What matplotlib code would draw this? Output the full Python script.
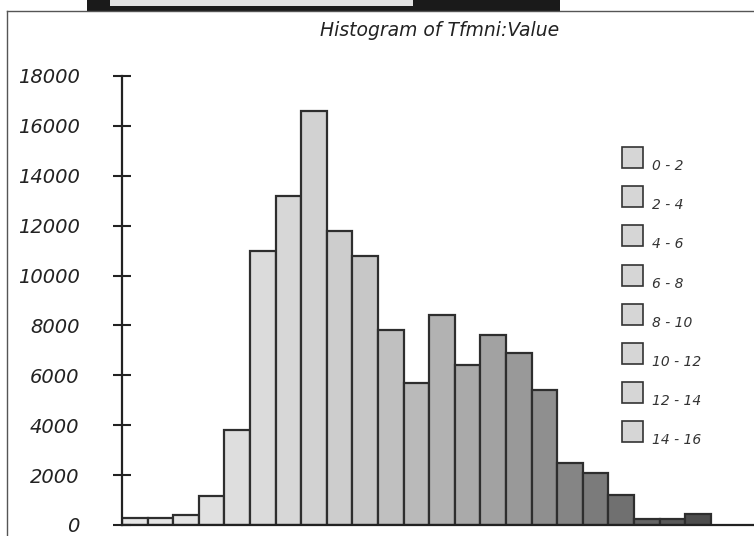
import matplotlib.pyplot as plt
import numpy as np
from matplotlib.patches import Rectangle
from matplotlib.lines import Line2D

# bar counts, left to right
counts = [300, 300, 400, 1150, 3800, 11000, 13200, 16600, 11800, 10800, 7800,
          5700, 8400, 6400, 7600, 6900, 5400, 2500, 2100, 1200, 250, 250, 450]
legend_labels = ["0 - 2", "2 - 4", "4 - 6", "6 - 8", "8 - 10",
                 "10 - 12", "12 - 14", "14 - 16"]
yticks = [0, 2000, 4000, 6000, 8000, 10000, 12000, 14000, 16000, 18000]
title = "Histogram of Tfmni:Value"

W, H = 754, 536
fig = plt.figure(figsize=(W / 100, H / 100), dpi=100)
fig.patch.set_facecolor("white")

# axes placed in pixel terms
left, right, bottom, top = 122, 754, 525, 76
ax = fig.add_axes([left / W, (H - bottom) / H, (right - left) / W, (bottom - top) / H])

x = np.arange(len(counts))
t = np.linspace(0, 1, len(counts))
shade = 0.90 - 0.60 * t ** 1.8
colors = [(s, s, s) for s in shade]
ax.bar(x, counts, width=1.0, align="edge", color=colors,
       edgecolor="#2e2e2e", linewidth=1.6)

bar_px = 25.6
ax.set_xlim(0, (right - left) / bar_px)
ax.set_ylim(0, 18000)
ax.set_xticks([])
ax.set_yticks(yticks)
ax.set_yticklabels([str(v) for v in yticks], fontstyle="italic",
                   fontsize=14, color="#222222")
ax.tick_params(axis="y", direction="inout", length=13, width=1.5,
               color="#222222", pad=24)

for side in ("top", "right"):
    ax.spines[side].set_visible(False)
ax.spines["left"].set_linewidth(1.6)
ax.spines["bottom"].set_linewidth(1.6)
ax.spines["left"].set_color("#222222")
ax.spines["bottom"].set_color("#222222")
ax.set_facecolor("none")

fig.text(440 / W, 1 - 30 / H, title, fontstyle="italic", fontsize=13.5,
         ha="center", va="center", color="#222222")

# legend drawn as swatches with labels sitting near the swatch bottom
sw_x, sw_y0, sw_size, sw_step = 622, 147, 21, 39.2
for i, lab in enumerate(legend_labels):
    y_top = sw_y0 + i * sw_step
    fig.add_artist(Rectangle((sw_x / W, 1 - (y_top + sw_size) / H),
                             sw_size / W, sw_size / H,
                             transform=fig.transFigure, facecolor="#d6d6d6",
                             edgecolor="#333333", linewidth=1.2))
    fig.text((sw_x + sw_size + 9) / W, 1 - (y_top + sw_size - 2) / H, lab,
             fontstyle="italic", fontsize=10, ha="left", va="center",
             color="#333333")

# window frame fragments around the chart
fig.add_artist(Rectangle((87 / W, 1 - 11 / H), (560 - 87) / W, 11 / H,
                         transform=fig.transFigure, facecolor="#1a1a1a",
                         edgecolor="none"))
fig.add_artist(Rectangle((110 / W, 1 - 6 / H), (413 - 110) / W, 6 / H,
                         transform=fig.transFigure, facecolor="#e2e2e2",
                         edgecolor="none"))
fig.add_artist(Line2D([7 / W, 1], [1 - 11 / H, 1 - 11 / H],
                      transform=fig.transFigure, color="#555555", linewidth=1))
fig.add_artist(Line2D([7 / W, 7 / W], [0, 1 - 11 / H],
                      transform=fig.transFigure, color="#555555", linewidth=1))

fig.savefig("out.png", dpi=100)
